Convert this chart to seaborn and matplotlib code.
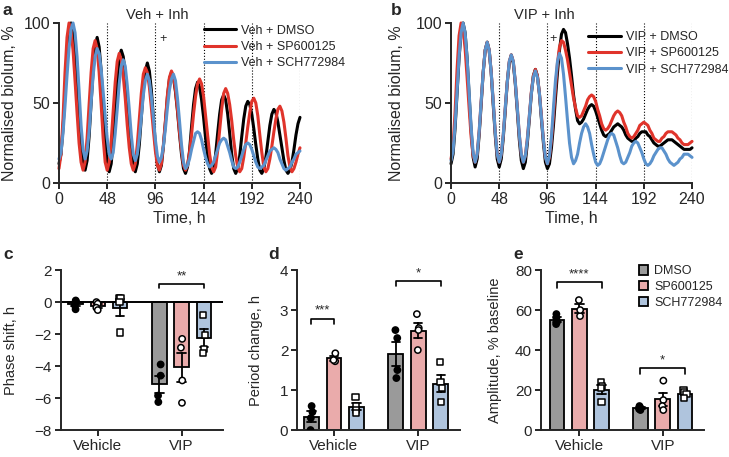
import numpy as np
import pandas as pd
import matplotlib
matplotlib.use('Agg')
import matplotlib.pyplot as plt
import seaborn as sns

# time axis of the bioluminescence traces (h)
hours = list(range(0, 241, 2))

# panel a: Veh + inhibitor, normalised bioluminescence (%)
veh_dmso = [12, 18, 34, 56, 78, 94, 100, 95, 83, 64, 44, 25, 13, 8,
            14, 29, 50, 70, 85, 91, 85, 70, 49, 28, 13, 7,
            12, 26, 45, 64, 78, 83, 79, 69, 53, 37, 21, 11, 7,
            12, 24, 41, 58, 70, 75, 70, 58, 41, 24, 12, 7,
            11, 23, 38, 54, 65, 69, 66, 57, 45, 31, 18, 9, 6,
            10, 20, 35, 49, 59, 63, 60, 52, 41, 28, 17, 9, 6,
            9, 18, 31, 43, 52, 55, 52, 43, 31, 18, 9, 6,
            9, 17, 29, 40, 48, 51, 49, 43, 34, 24, 15, 8, 6,
            9, 16, 26, 36, 43, 46, 44, 38, 30, 22, 14, 8, 6,
            8, 13, 21, 30, 37, 41]
veh_sp = [9, 18, 40, 69, 91, 100, 95, 83, 64, 44, 25, 13, 8,
          13, 28, 49, 69, 84, 89, 84, 69, 49, 28, 13, 8,
          13, 26, 45, 63, 76, 81, 77, 67, 53, 36, 22, 12, 8,
          12, 24, 40, 56, 68, 72, 69, 60, 47, 33, 20, 11, 8,
          12, 24, 39, 55, 66, 70, 67, 58, 46, 32, 20, 11, 8,
          11, 19, 30, 43, 54, 62, 65, 62, 54, 42, 30, 18, 10, 7,
          10, 20, 33, 46, 56, 59, 56, 49, 39, 27, 17, 10, 7,
          9, 16, 25, 35, 44, 51, 53, 50, 42, 30, 19, 10, 7,
          9, 15, 23, 32, 40, 46, 48, 45, 38, 28, 17, 10, 7,
          9, 13, 18, 22]
veh_sch = [15, 19, 31, 48, 67, 84, 96, 100, 94, 79, 58, 36, 21, 15,
           20, 32, 50, 67, 79, 84, 81, 71, 57, 42, 28, 18, 15,
           19, 31, 46, 62, 73, 77, 73, 61, 46, 30, 18, 14,
           18, 28, 41, 55, 64, 68, 64, 54, 41, 27, 17, 13,
           16, 23, 34, 47, 58, 65, 68, 64, 53, 39, 24, 13, 9,
           11, 15, 21, 26, 31, 32, 31, 27, 21, 16, 12, 10,
           11, 13, 17, 21, 25, 27, 28, 27, 23, 19, 14, 10, 9,
           10, 13, 17, 21, 24, 25, 24, 21, 17, 13, 10, 9,
           10, 11, 14, 17, 20, 21, 22, 21, 19, 15, 12, 9, 8,
           9, 10, 13, 15, 18, 19, 20]

# panel b: VIP + inhibitor
vip_dmso = [12, 18, 34, 56, 78, 94, 100, 94, 78, 55, 33, 16, 10,
            15, 30, 49, 69, 83, 88, 83, 69, 49, 30, 15, 10,
            15, 28, 45, 63, 75, 80, 75, 62, 45, 27, 14, 9,
            13, 25, 40, 56, 67, 71, 67, 56, 40, 25, 13, 9,
            12, 22, 36, 53, 69, 83, 93, 96, 94, 87, 78, 67, 55, 46, 39, 37,
            38, 40, 43, 46, 48, 49, 48, 45, 41, 37, 33, 30, 29,
            30, 31, 33, 35, 36, 37, 36, 35, 33, 30, 28, 27, 26,
            26, 28, 29, 31, 32, 32, 32, 30, 29, 27, 25, 24, 23,
            23, 24, 25, 26, 27, 27, 27, 26, 25, 24, 23, 22, 21, 21,
            21, 21, 22]
vip_sp = [15, 23, 44, 71, 92, 100, 96, 84, 66, 47, 29, 17, 13,
          18, 32, 51, 69, 83, 88, 83, 69, 51, 32, 18, 13,
          18, 30, 47, 63, 76, 80, 76, 63, 47, 30, 18, 13,
          17, 28, 42, 57, 67, 71, 67, 56, 42, 27, 16, 12,
          16, 27, 42, 59, 75, 85, 89, 88, 83, 77, 69, 61, 53, 47, 42, 41,
          42, 45, 48, 52, 54, 55, 54, 51, 46, 42, 37, 34, 33,
          34, 36, 39, 42, 44, 45, 44, 42, 38, 35, 31, 29, 28,
          29, 31, 33, 36, 37, 38, 37, 36, 33, 31, 28, 27, 26,
          26, 28, 29, 31, 32, 32, 32, 31, 30, 28, 27, 25, 24, 24,
          24, 25, 26]
vip_sch = [14, 20, 36, 57, 79, 94, 100, 94, 78, 57, 35, 19, 13,
           18, 32, 51, 69, 83, 88, 83, 69, 51, 32, 18, 13,
           18, 30, 47, 63, 76, 80, 76, 63, 47, 30, 18, 13,
           17, 27, 42, 56, 66, 70, 66, 56, 41, 27, 16, 12,
           17, 29, 47, 64, 76, 81, 78, 68, 54, 39, 25, 16, 12,
           14, 18, 25, 31, 35, 37, 35, 31, 24, 18, 13, 11,
           12, 15, 19, 23, 27, 30, 31, 30, 26, 22, 17, 13, 12,
           13, 16, 19, 23, 25, 26, 25, 22, 19, 15, 12, 11,
           12, 14, 17, 19, 21, 22, 22, 20, 18, 15, 13, 12, 11,
           12, 13, 15, 16, 18, 18, 18, 17, 16]

conditions = ['Vehicle', 'VIP']
treatments = ['DMSO', 'SP600125', 'SCH772984']

# per-slice values, ordered DMSO, SP600125, SCH772984
phase_vehicle = [[0.1, 0.0, -0.2, -0.45], [0.0, -0.1, -0.35, -0.5], [0.25, 0.25, 0.0, -1.9]]
phase_vip = [[-3.9, -4.6, -5.85, -6.25], [-2.3, -2.85, -4.9, -6.3], [-0.8, -2.05, -2.95, -3.2]]
period_vehicle = [[0.6, 0.45, 0.3, 0.0], [1.92, 1.72, 1.75], [0.82, 0.6, 0.5, 0.42]]
period_vip = [[2.5, 2.3, 1.5, 1.3], [2.9, 2.55, 2.5, 2.0], [1.7, 1.2, 1.05, 0.7]]
amp_vehicle = [[58, 56, 54, 53], [65, 57, 60], [24, 22, 21, 14]]
amp_vip = [[12, 11, 10.5, 10], [24.7, 15, 12, 10], [20, 19, 18, 16]]

line_colours = ['black', '#e0342b', '#5b92cc']
bar_colours = ['#9a9a9a', '#f4a1a1', '#a7c4e5']

sns.set_style('ticks')
plt.rcParams['font.family'] = ['Liberation Sans', 'DejaVu Sans']
plt.rcParams['font.size'] = 11
plt.rcParams['axes.linewidth'] = 1.4
plt.rcParams['xtick.major.width'] = 1.4
plt.rcParams['ytick.major.width'] = 1.4
plt.rcParams['xtick.major.size'] = 4
plt.rcParams['ytick.major.size'] = 4
plt.rcParams['xtick.major.pad'] = 2.5
plt.rcParams['ytick.major.pad'] = 2.5

for name, vals in [('veh_dmso', veh_dmso), ('veh_sp', veh_sp), ('veh_sch', veh_sch),
                   ('vip_dmso', vip_dmso), ('vip_sp', vip_sp), ('vip_sch', vip_sch)]:
    if len(vals) != len(hours):
        raise ValueError(f'{name} has {len(vals)} points')

np.random.seed(3)  # strip jitter only
fig = plt.figure(figsize=(7.29, 4.57), dpi=100)


def trace_panel(ax, series, labels, title, plus_x, leg_anchor, label_x):
    df = pd.concat([pd.DataFrame({'time': hours, 'value': s, 'series': l})
                    for s, l in zip(series, labels)])
    sns.lineplot(data=df, x='time', y='value', hue='series', hue_order=labels,
                 palette=line_colours, linewidth=2.2, ax=ax)
    for ln in ax.lines:
        ln.set_clip_on(False)
    ax.vlines([48, 96, 144, 192, 240], 0, 100, colors='black', linestyles=':', linewidth=0.8, zorder=0)
    ax.set_xlim(0, 240)
    ax.set_ylim(0, 100)
    ax.set_xticks([0, 48, 96, 144, 192, 240])
    ax.set_yticks([0, 50, 100])
    ax.tick_params(labelsize=11.5)
    ax.set_xlabel('Time, h', fontsize=11.5, labelpad=3)
    ax.set_ylabel('Normalised biolum, %', fontsize=11.5)
    ax.yaxis.set_label_coords(label_x, 0.5)
    ax.text(title[1], 105, title[0], ha='center', va='center', fontsize=10.5, clip_on=False)
    ax.text(plus_x, 90, '+', ha='center', va='center', fontsize=9)
    ax.legend(frameon=False, loc='upper left', bbox_to_anchor=leg_anchor, fontsize=9,
              handlelength=2.6, handletextpad=0.4, labelspacing=0.35, borderpad=0, borderaxespad=0)
    sns.despine(ax=ax)


def bar_panel(ax, vehicle, vip, ylim, yticks, ylabel, xlim, label_x):
    rows = []
    for cond, groups in zip(conditions, [vehicle, vip]):
        for treat, vals in zip(treatments, groups):
            for v in vals:
                rows.append({'cond': cond, 'treat': treat, 'val': v})
    df = pd.DataFrame(rows)
    sns.barplot(data=df, x='cond', y='val', hue='treat', order=conditions, hue_order=treatments,
                palette=bar_colours, errorbar='se', capsize=0.3, gap=0.35,
                edgecolor='black', linewidth=1.3,
                err_kws={'color': 'black', 'linewidth': 1.3}, ax=ax)
    for treat, marker, face in zip(treatments, ['o', 'o', 's'], ['black', 'white', 'white']):
        sns.stripplot(data=df[df['treat'] == treat], x='cond', y='val', hue='treat',
                      order=conditions, hue_order=treatments,
                      palette={t: face for t in treatments}, dodge=True, jitter=0.06,
                      marker=marker, size=4.5, edgecolor='black', linewidth=1.1,
                      legend=False, ax=ax)
    ax.set_ylim(*ylim)
    ax.set_yticks(yticks)
    ax.set_xlim(*xlim)
    ax.tick_params(labelsize=11)
    ax.set_xlabel('')
    ax.set_ylabel(ylabel, fontsize=10.5)
    ax.yaxis.set_label_coords(label_x, 0.5)
    sns.despine(ax=ax)
    return df


def bracket(ax, x1, x2, y, h, stars, ty):
    ax.plot([x1, x1, x2, x2], [y - h, y, y, y - h], color='black', lw=1.2, clip_on=False)
    ax.text((x1 + x2) / 2, ty, stars, ha='center', va='bottom', fontsize=9.5)


step = 0.8 / 3

ax_a = fig.add_axes([0.0809, 0.5996, 0.3306, 0.3501])
trace_panel(ax_a, [veh_dmso, veh_sp, veh_sch],
            ['Veh + DMSO', 'Veh + SP600125', 'Veh + SCH772984'],
            ('Veh + Inh', 98), 104, (0.6, 0.99), -0.175)

ax_b = fig.add_axes([0.6187, 0.5996, 0.3306, 0.3501])
trace_panel(ax_b, [vip_dmso, vip_sp, vip_sch],
            ['VIP + DMSO', 'VIP + SP600125', 'VIP + SCH772984'],
            ('VIP + Inh', 93), 102, (0.57, 0.95), -0.195)

ax_c = fig.add_axes([0.0837, 0.059, 0.2218, 0.350])
bar_panel(ax_c, phase_vehicle, phase_vip, (-8, 2), [-8, -6, -4, -2, 0, 2],
          'Phase shift, h', (-0.44, 1.49), -0.265)
ax_c.axhline(0, color='black', lw=1.4, zorder=1)
ax_c.legend_.remove()
bracket(ax_c, 1 - step, 1 + step, 1.15, 0.3, '**', 1.2)

ax_d = fig.add_axes([0.4078, 0.059, 0.2232, 0.350])
bar_panel(ax_d, period_vehicle, period_vip, (0, 4), [0, 1, 2, 3, 4],
          'Period change, h', (-0.435, 1.495), -0.21)
ax_d.legend_.remove()
bracket(ax_d, -step, 0, 2.78, 0.12, '***', 2.83)
bracket(ax_d, 1 - step, 1 + step, 3.72, 0.12, '*', 3.77)

ax_e = fig.add_axes([0.7421, 0.059, 0.2236, 0.350])
bar_panel(ax_e, amp_vehicle, amp_vip, (0, 80), [0, 20, 40, 60, 80],
          'Amplitude, % baseline', (-0.46, 1.495), -0.24)
bracket(ax_e, -step, step, 74, 3, '****', 75)
bracket(ax_e, 1 - step, 1 + step, 31, 3, '*', 32)
handles, labels = ax_e.get_legend_handles_labels()
ax_e.legend(handles[:3], labels[:3], frameon=False, loc='upper left', bbox_to_anchor=(0.6, 1.03),
            fontsize=9, handlelength=0.75, handleheight=0.75, handletextpad=0.5,
            labelspacing=0.3, borderpad=0, borderaxespad=0)

for x, y, s in [(0.004, 0.978, 'a'), (0.536, 0.978, 'b'), (0.004, 0.443, 'c'),
                (0.368, 0.443, 'd'), (0.704, 0.443, 'e')]:
    fig.text(x, y, s, fontsize=12.5, fontweight='bold', va='center', ha='left')

fig.savefig('out.png', dpi=100)
